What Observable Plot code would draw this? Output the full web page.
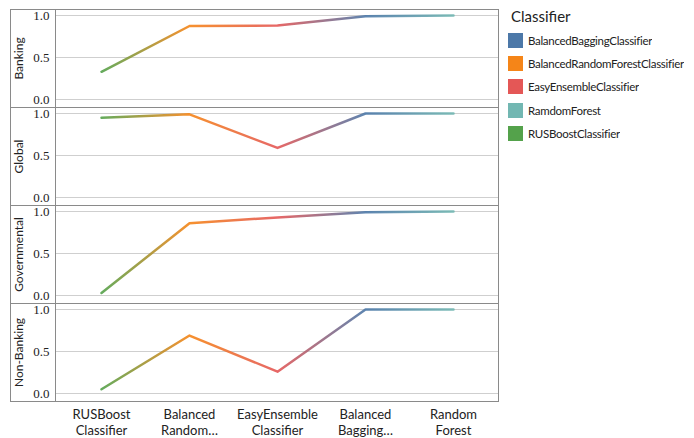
<!DOCTYPE html>
<html><head><meta charset="utf-8">
<script src="https://cdn.jsdelivr.net/npm/d3@7"></script>
<script src="https://cdn.jsdelivr.net/npm/@observablehq/plot@0.6"></script>
<style>
body{margin:0;background:#fff;}
#wrap{position:relative;width:694px;height:438px;font-family:Lato,sans-serif;}
#chart{position:absolute;left:0;top:0;}
#legend{position:absolute;left:508px;top:4px;}
#legend .title{font-size:15px;color:#222;margin-left:3px;height:25px;line-height:24px;}
.lg-swatch{height:23.2px;padding-bottom:0 !important;margin:0 !important;letter-spacing:-0.3px;}
.lg-swatch svg{margin-right:5px !important;}
</style></head>
<body><div id="wrap"><div id="chart"></div><div id="legend"><div class="title">Classifier</div></div></div>
<script>
const sectors = ["Banking", "Global", "Governmental", "Non-Banking"];
const models = ["RUSBoostClassifier", "BalancedRandomForestClassifier", "EasyEnsembleClassifier", "BalancedBaggingClassifier", "RamdomForest"];
const xLabels = ["RUSBoost\nClassifier", "Balanced\nRandom…", "EasyEnsemble\nClassifier", "Balanced\nBagging…", "Random\nForest"];
const bankingScores = [0.33, 0.875, 0.88, 0.99, 1.0];
const globalScores = [0.95, 0.99, 0.59, 1.0, 1.0];
const governmentalScores = [0.03, 0.86, 0.93, 0.99, 1.0];
const nonBankingScores = [0.05, 0.69, 0.26, 1.0, 1.0];
const legendClassifiers = ["BalancedBaggingClassifier", "BalancedRandomForestClassifier", "EasyEnsembleClassifier", "RamdomForest", "RUSBoostClassifier"];
const legendColors = ["#4c78a8", "#f58518", "#e45756", "#72b7b2", "#54a24b"];
const yTicks = [0, 0.5, 1];

const series = [bankingScores, globalScores, governmentalScores, nonBankingScores];
const data = [];
sectors.forEach((s, i) => models.forEach((m, j) => data.push({sector: s, model: m, value: series[i][j]})));

const colorOpts = {type: "ordinal", domain: legendClassifiers, range: legendColors};

const plot = Plot.plot({
  width: 694, height: 438,
  marginTop: 8, marginBottom: 36, marginLeft: 55, marginRight: 196,
  style: {fontFamily: "Lato, sans-serif", fontSize: "13px", color: "#222", background: "white"},
  x: {type: "point", domain: models, padding: 0.5},
  y: {domain: [0, 1], insetTop: 6, insetBottom: 8},
  fy: {domain: sectors, padding: 0, axis: null},
  marks: [
    Plot.gridY(yTicks, {stroke: "#cfcfcf", strokeOpacity: 1}),
    Plot.frame({stroke: "#8a8a8a", insetLeft: -45}),
    Plot.frame({stroke: "#8a8a8a"}),
    Plot.axisY(yTicks, {tickSize: 0, tickPadding: 6, tickFormat: d3.format(".1f"), fontFamily: "'Liberation Serif', serif", fontSize: 13, label: null}),
    Plot.axisX({tickSize: 0, tickPadding: 5, tickFormat: d => xLabels[models.indexOf(d)], lineHeight: 1.3, fontSize: 13, label: null}),
    Plot.text(sectors, {fy: d => d, text: d => d, frameAnchor: "left", textAnchor: "middle", dx: -36, rotate: -90, fontSize: 12}),
    Plot.line(data, {x: "model", y: "value", fy: "sector", stroke: "url(#lineGrad)", strokeWidth: 2.5, strokeOpacity: 0.9})
  ]
});

const sx = plot.scale("x");
const color = Plot.scale({color: colorOpts});
const grad = d3.select(plot).insert("defs", ":first-child").append("linearGradient")
  .attr("id", "lineGrad").attr("gradientUnits", "userSpaceOnUse")
  .attr("x1", sx.apply(models[0])).attr("x2", sx.apply(models[models.length - 1]))
  .attr("y1", 0).attr("y2", 0);
models.forEach((m, i) => grad.append("stop").attr("offset", i / (models.length - 1)).attr("stop-color", color.apply(m)));

document.getElementById("chart").appendChild(plot);

const leg = Plot.legend({color: colorOpts, legend: "swatches", columns: 1, swatchSize: 15, className: "lg",
  style: {fontFamily: "Lato, sans-serif", fontSize: "11.5px", color: "#222"}});
document.getElementById("legend").appendChild(leg);
</script>
</body></html>
